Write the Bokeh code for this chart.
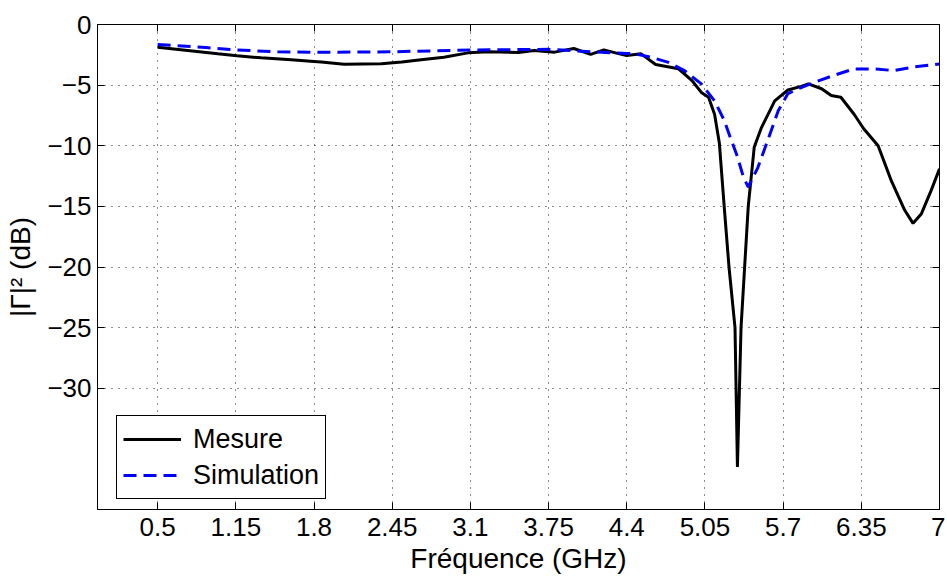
from bokeh.plotting import figure
from bokeh.models import FixedTicker, LinearAxis, Range1d, Legend, LegendItem
from bokeh.embed import file_html
from bokeh.resources import INLINE

meas_f = [0.5, 0.75, 1.0, 1.16, 1.36, 1.61, 1.80, 1.86, 2.05, 2.36, 2.53, 2.69, 2.88, 3.08,
          3.25, 3.5, 3.63, 3.8, 3.96, 4.1, 4.21, 4.33, 4.40, 4.52, 4.64, 4.83, 4.94, 5.02,
          5.08, 5.13, 5.17, 5.21, 5.25, 5.30, 5.32, 5.35, 5.38, 5.41, 5.46, 5.52, 5.63,
          5.74, 5.85, 5.91, 6.02, 6.10, 6.18, 6.29, 6.37, 6.49, 6.60, 6.71, 6.78, 6.85,
          6.93, 7.0]
meas_db = [-1.87, -2.14, -2.42, -2.58, -2.75, -2.9, -3.05, -3.1, -3.27, -3.24, -3.1, -2.9,
           -2.7, -2.34, -2.25, -2.3, -2.14, -2.28, -1.98, -2.47, -2.09, -2.4, -2.56, -2.42,
           -3.3, -3.65, -4.6, -5.6, -6.0, -7.4, -9.8, -15.0, -20.0, -25.0, -36.5, -25.0,
           -20.0, -15.0, -10.1, -8.5, -6.3, -5.4, -5.1, -4.9, -5.3, -5.86, -6.0, -7.4, -8.6,
           -10.0, -12.9, -15.3, -16.4, -15.6, -13.7, -11.9]

sim_f = [0.5, 0.9, 1.15, 1.5, 1.8, 2.45, 3.1, 3.75, 4.1, 4.4, 4.46, 4.6, 4.74, 4.88, 5.02,
         5.13, 5.21, 5.26, 5.32, 5.37, 5.41, 5.49, 5.57, 5.66, 5.74, 5.85, 5.96, 6.12, 6.29,
         6.46, 6.62, 6.79, 7.0]
sim_db = [-1.65, -1.9, -2.1, -2.25, -2.3, -2.25, -2.1, -2.05, -2.25, -2.4, -2.4, -2.7, -3.1,
          -3.8, -4.9, -6.3, -7.9, -9.3, -10.9, -12.6, -13.4, -11.8, -9.6, -7.1, -5.7, -5.2,
          -4.76, -4.2, -3.66, -3.66, -3.8, -3.5, -3.25]

x_ticks = [0.5, 1.15, 1.8, 2.45, 3.1, 3.75, 4.4, 5.05, 5.7, 6.35, 7.0]
x_labels = ["0.5", "1.15", "1.8", "2.45", "3.1", "3.75", "4.4", "5.05", "5.7", "6.35", "7"]
y_ticks = [0, -5, -10, -15, -20, -25, -30]

FONT = "Liberation Sans"
TICK_FS = "26px"
LABEL_FS = "28px"
LEG_FS = "27px"

p = figure(width=945, height=579, output_backend="svg", toolbar_location=None,
           x_range=Range1d(0, 7), y_range=Range1d(-40, 0),
           min_border_left=97, min_border_right=6, min_border_top=24, min_border_bottom=70)

p.outline_line_color = "black"
p.outline_line_width = 1

for ax in (p.xaxis[0], p.yaxis[0]):
    ax.major_tick_in = 7
    ax.major_tick_out = 0
    ax.minor_tick_in = 0
    ax.minor_tick_out = 0
    ax.axis_line_color = "black"
    ax.major_tick_line_color = "black"
    ax.major_label_text_font = FONT
    ax.major_label_text_font_size = TICK_FS
    ax.major_label_text_color = "black"
    ax.axis_label_text_font = FONT
    ax.axis_label_text_font_size = LABEL_FS
    ax.axis_label_text_font_style = "normal"
    ax.axis_label_text_color = "black"

p.xaxis.ticker = FixedTicker(ticks=x_ticks)
p.xaxis.major_label_overrides = {t: l for t, l in zip(x_ticks, x_labels)}
p.yaxis.ticker = FixedTicker(ticks=y_ticks)
p.xaxis.axis_label = "Fréquence (GHz)"
p.yaxis.axis_label = "|Γ|² (dB)"
p.xaxis.major_label_standoff = 8
p.yaxis.major_label_standoff = 6
p.xaxis.axis_label_standoff = 4
p.yaxis.axis_label_standoff = 8

top = LinearAxis(ticker=FixedTicker(ticks=x_ticks),
                 major_label_overrides={t: "" for t in x_ticks},
                 major_tick_in=7, major_tick_out=0, minor_tick_in=0, minor_tick_out=0,
                 axis_line_color="black", major_label_standoff=0)
right = LinearAxis(ticker=FixedTicker(ticks=y_ticks),
                   major_label_overrides={t: "" for t in y_ticks},
                   major_tick_in=7, major_tick_out=0, minor_tick_in=0, minor_tick_out=0,
                   axis_line_color="black", major_label_standoff=0)
p.add_layout(top, "above")
p.add_layout(right, "right")

for g in (p.xgrid[0], p.ygrid[0]):
    g.grid_line_color = "black"
    g.grid_line_dash = "1 6"
    g.grid_line_width = 1
    g.grid_line_alpha = 0.9
p.xgrid.ticker = FixedTicker(ticks=x_ticks)
p.ygrid.ticker = FixedTicker(ticks=y_ticks)

r1 = p.line(meas_f, meas_db, line_color="black", line_width=3)
r2 = p.line(sim_f, sim_db, line_color="blue", line_width=3, line_dash="13 7")

legend = Legend(items=[LegendItem(label="Mesure", renderers=[r1]),
                       LegendItem(label="Simulation", renderers=[r2])],
                location=(19, 10))
legend.label_text_font = FONT
legend.label_text_font_size = LEG_FS
legend.label_text_color = "black"
legend.border_line_color = "black"
legend.border_line_width = 1
legend.border_line_alpha = 1
legend.background_fill_alpha = 1
legend.glyph_width = 58
legend.label_standoff = 12
legend.padding = 6
legend.spacing = 2
legend.margin = 0
legend.label_height = 34
legend.glyph_height = 34
p.add_layout(legend, "center")

open("out.html", "w").write(file_html(p, INLINE))
